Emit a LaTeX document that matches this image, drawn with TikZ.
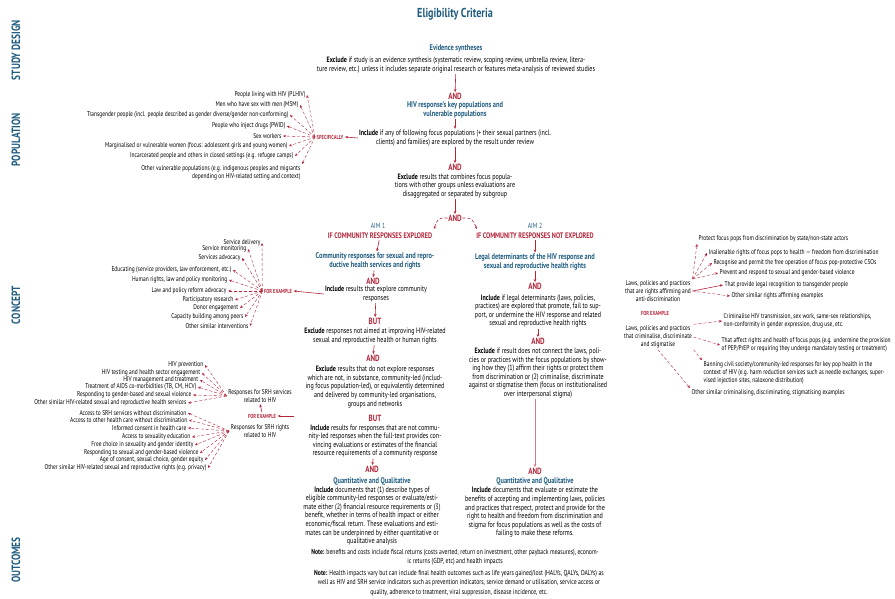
\documentclass[tikz,border=0pt]{standalone}
\usepackage{fontspec}
\setmainfont{PT Sans}[FakeStretch=0.78]
\usepackage[HTML]{xcolor}
\usepackage{tikz}
\usetikzlibrary{positioning, arrows, arrows.meta}
\definecolor{headblue}{HTML}{1F5C80}
\definecolor{crim}{HTML}{B3263A}

\begin{document}
\begin{tikzpicture}[x=1pt, y=-1pt,
  body/.style={font=\fontsize{7.8}{8.6}\selectfont, align=center, inner sep=1pt},
  item/.style={font=\fontsize{7}{7.8}\selectfont, inner sep=1.5pt},
  head/.style={font=\fontsize{8.2}{9}\selectfont\bfseries, text=headblue, align=center, inner sep=1pt},
  joiner/.style={font=\fontsize{9}{10}\selectfont\bfseries, text=crim, inner sep=0.5pt},
  aimlbl/.style={font=\fontsize{7.4}{8}\selectfont, text=headblue, inner sep=1pt},
  cond/.style={font=\fontsize{8}{9}\selectfont\bfseries, text=crim, inner sep=1pt},
  exlbl/.style={font=\fontsize{5.8}{7}\selectfont\bfseries, text=crim, inner sep=1.5pt},
  sidelbl/.style={font=\fontsize{12}{13}\selectfont\bfseries, text=headblue, rotate=90},
  flow/.style={crim, semithick, -{Stealth[length=3pt,width=2.6pt]}},
  fan/.style={crim, densely dashed, thin, -{Stealth[length=3pt,width=2.6pt]}},
]
\useasboundingbox (0,0) rectangle (895,598);

% title and row labels
\node[font=\fontsize{13}{15}\selectfont\bfseries, text=headblue] (title) at (455,14) {Eligibility Criteria};
\node[sidelbl] (lblstudy) at (16,50) {STUDY DESIGN};
\node[sidelbl] (lblpop) at (16,140) {POPULATION};
\node[sidelbl] (lblconc) at (16,305) {CONCEPT};
\node[sidelbl] (lblout) at (16,560) {OUTCOMES};

% study design
\node[head] (evid) at (456,48) {Evidence syntheses};
\node[body] (evidx) at (456,65) {\textbf{Exclude} if study is an evidence synthesis (systematic review, scoping review, umbrella review, litera-\\ture review, etc.) unless it includes separate original research or features meta-analysis of reviewed studies};

% population
\node[joiner] (and1) at (455,96) {AND};
\node[head] (keypop) at (455,110) {HIV response's key populations and\\vulnerable populations};
\node[body] (incl) at (455,138) {\textbf{Include} if any of following focus populations (+ their sexual partners (incl.\\clients) and families) are explored by the result under review};
\node[exlbl] (spec) at (330,137) {SPECIFICALLY};
\node[joiner] (and2) at (455,167) {AND};
\node[body] (combx) at (455,186) {\textbf{Exclude} results that combines focus popula-\\tions with other groups unless evaluations are\\disaggregated or separated by subgroup};
\draw[flow] (evidx) -- (and1);
\draw[flow] (keypop) -- (incl);
\draw[flow] (incl) -- (and2);
\draw[flow] (incl.west) -- (spec.east);

% population list
\node[item, anchor=east] (p1) at (307,95) {People living with HIV (PLHIV)};
\node[item, anchor=east] (p2) at (300,105) {Men who have sex with men (MSM)};
\node[item, anchor=east] (p3) at (290,115) {Transgender people (incl. people described as gender diverse/gender non-conforming)};
\node[item, anchor=east] (p4) at (287,126) {People who inject drugs (PWID)};
\node[item, anchor=east] (p5) at (283,136) {Sex workers};
\node[item, anchor=east] (p6) at (289,146) {Marginalised or vulnerable women (focus: adolescent girls and young women)};
\node[item, anchor=east] (p7) at (295,156) {Incarcerated people and others in closed settings (e.g. refugee camps)};
\node[item, anchor=east, align=right] (p8) at (302,173) {Other vulnerable populations (e.g. indigenous peoples and migrants\\depending on HIV-related setting and context)};
\foreach \p in {p1,p2,p3,p4,p5,p6,p7}{
  \draw[fan] (spec.west) -- (\p.east);
}
\draw[fan] (spec.west) -- (p8.north east);

% split into the two aims
\node[joiner] (and3) at (455,218) {AND};
\draw[flow] (combx) -- (and3);
\coordinate (split1) at (434,229);
\coordinate (split2) at (477,229);
\draw[flow, densely dashed] (and3.west) .. controls (438,218) .. (split1);
\draw[flow, densely dashed] (and3.east) .. controls (472,218) .. (split2);

% aim 1
\node[aimlbl] (aim1) at (378,226) {AIM 1};
\node[cond] (if1) at (380,236) {IF COMMUNITY RESPONSES EXPLORED};
\node[head] (comm) at (375,261) {Community responses for sexual and repro-\\ductive health services and rights};
\node[joiner] (and4) at (373,281) {AND};
\node[body] (inclc) at (376,294) {\textbf{Include} results that explore community\\responses};
\node[joiner] (but1) at (375,321) {BUT};
\node[body] (notaim) at (375,336) {\textbf{Exclude} responses not aimed at improving HIV-related\\sexual and reproductive health or human rights};
\node[joiner] (and5) at (373,358) {AND};
\node[body] (notled) at (375,387) {\textbf{Exclude} results that do not explore responses\\which are not, in substance, community-led (includ-\\ing focus population-led), or equivalently determined\\and delivered by community-led organisations,\\groups and networks};
\node[joiner] (but2) at (375,418) {BUT};
\node[body] (fulltext) at (375,441) {\textbf{Include} results for responses that are not commu-\\nity-led responses when the full-text provides con-\\vincing evaluations or estimates of the financial\\resource requirements of a community response};
\node[joiner] (and6) at (372,469) {AND};
\node[head] (qq1) at (372,481) {Quantitative and Qualitative};
\node[body] (docs1) at (372,516) {\textbf{Include} documents that (1) describe types of\\eligible community-led responses or evaluate/esti-\\mate either (2) financial resource requirements or (3)\\benefit, whether in terms of health impact or either\\economic/fiscal return. These evaluations and esti-\\mates can be underpinned by either quantitative or\\qualitative analysis};
\draw[flow] (if1) -- (comm);
\draw[flow] (comm) -- (and4);
\draw[flow] (inclc) -- (but1);
\draw[flow] (notaim) -- (and5);
\draw[flow] (fulltext) -- (and6);

% aim 2
\node[aimlbl] (aim2) at (535,226) {AIM 2};
\node[cond] (if2) at (535,236) {IF COMMUNITY RESPONSES NOT EXPLORED};
\node[head] (legal) at (535,262) {Legal determinants of the HIV response and\\sexual and reproductive health rights};
\node[joiner] (and7) at (535,286) {AND};
\node[body] (incll) at (538,311) {\textbf{Include} if legal determinants (laws, policies,\\practices) are explored that promote, fail to sup-\\port, or undermine the HIV response and related\\sexual and reproductive health rights};
\node[joiner] (and8) at (538,341) {AND};
\node[body] (exl) at (538,373) {\textbf{Exclude} if result does not connect the laws, poli-\\cies or practices with the focus populations by show-\\ing how they (1) affirm their rights or protect them\\from discrimination or (2) criminalise, discriminate\\against or stigmatise them (focus on institutionalised\\over interpersonal stigma)};
\node[joiner] (and9) at (535,471) {AND};
\node[head] (qq2) at (535,481) {Quantitative and Qualitative};
\node[body] (docs2) at (535,512.5) {\textbf{Include} documents that evaluate or estimate the\\benefits of accepting and implementing laws, policies\\and practices that respect, protect and provide for the\\right to health and freedom from discrimination and\\stigma for focus populations as well as the costs of\\failing to make these reforms.};
\draw[flow] (if2) -- (legal);
\draw[flow] (legal) -- (and7);
\draw[flow] (incll) -- (and8);
\draw[flow, crim!60, thin] (exl.south -| and9) -- (and9);

% notes
\node[body, font=\fontsize{7.3}{8.8}\selectfont] (note1) at (455,557) {\textbf{Note:} benefits and costs include fiscal returns (costs averted, return on investment, other payback measures), econom-\\ic returns (GDP, etc) and health impacts};
\node[body, font=\fontsize{7.3}{9.2}\selectfont] (note2) at (459,583) {\textbf{Note:} Health impacts vary but can include final health outcomes such as life years gained/lost (HALYs, QALYs, DALYs) as\\well as HIV and SRH service indicators such as prevention indicators, service demand or utilisation, service access or\\quality, adherence to treatment, viral suppression, disease incidence, etc.};

% community response examples
\node[exlbl] (fe1) at (278,291) {FOR EXAMPLE};
\draw[flow] (inclc.west) -- (fe1.east);
\node[item, anchor=east] (c1) at (262,243) {Service delivery};
\node[item, anchor=east] (c2) at (248,249) {Service monitoring};
\node[item, anchor=east] (c3) at (242,258) {Services advocacy};
\node[item, anchor=east] (c4) at (233,270) {Educating (service providers, law enforcement, etc.)};
\node[item, anchor=east] (c5) at (229,280) {Human rights, law and policy monitoring};
\node[item, anchor=east] (c6) at (228,291) {Law and policy reform advocacy};
\node[item, anchor=east] (c7) at (235,300) {Participatory research};
\node[item, anchor=east] (c8) at (240,308) {Donor engagement};
\node[item, anchor=east] (c9) at (245,317) {Capacity building among peers};
\node[item, anchor=east] (c10) at (250,326) {Other similar interventions};
\foreach \c in {c1,c2,c3,c4,c5,c6,c7,c8,c9,c10}{
  \draw[fan] (fe1.west) -- (\c.east);
}

% SRH services and rights examples
\node[item, align=center] (srv) at (260,396) {Responses for SRH services\\related to HIV};
\node[exlbl] (fe2) at (262,416) {FOR EXAMPLE};
\node[item, align=center] (rts) at (260,431) {Responses for SRH rights\\related to HIV};
\coordinate (fe2in) at (294,416);
\draw[flow] (fe2in) -- (fe2.east);
\draw[flow] (fe2.north) -- (srv.south);
\node[item, anchor=east] (s1) at (205,365) {HIV prevention};
\node[item, anchor=east] (s2) at (202,373) {HIV testing and health sector engagement};
\node[item, anchor=east] (s3) at (200,380) {HIV management and treatment};
\node[item, anchor=east] (s4) at (198,387) {Treatment of AIDS co-morbidities (TB, CM, HCV)};
\node[item, anchor=east] (s5) at (193,395) {Responding to gender-based and sexual violence};
\node[item, anchor=east] (s6) at (188,403) {Other similar HIV-related sexual and reproductive health services};
\foreach \s in {s1,s2,s3,s4,s5,s6}{
  \draw[fan] (srv.west) -- (\s.east);
}
\node[item, anchor=east] (r1) at (188,413) {Access to SRH services without discrimination};
\node[item, anchor=east] (r2) at (189,420) {Access to other health care without discrimination};
\node[item, anchor=east] (r3) at (188,428) {Informed consent in health care};
\node[item, anchor=east] (r4) at (192,437) {Access to sexuality education};
\node[item, anchor=east] (r5) at (195,445) {Free choice in sexuality and gender identity};
\node[item, anchor=east] (r6) at (200,453) {Responding to sexual and gender-based violence};
\node[item, anchor=east] (r7) at (205,460) {Age of consent, sexual choice, gender equity};
\node[item, anchor=east] (r8) at (208,468) {Other similar HIV-related sexual and reproductive rights (e.g. privacy)};
\foreach \r in {r1,r2,r3,r4,r5,r6,r7,r8}{
  \draw[fan] (rts.west) -- (\r.east);
}

% legal determinant examples
\node[item, align=center] (law1) at (658,291) {Laws, policies and practices\\that are rights affirming and\\anti-discrimination};
\node[exlbl] (fe3) at (655,313) {FOR EXAMPLE};
\node[item, align=center] (law2) at (658,337) {Laws, policies and practices\\that criminalise, discriminate\\and stigmatise};
\node[item, anchor=west] (q1) at (697,239) {Protect focus pops from discrimination by state/non-state actors};
\node[item, anchor=west] (q2) at (707,253) {Inalienable rights of focus pops to health — freedom from discrimination};
\node[item, anchor=west] (q3) at (712,263) {Recognise and permit the free operation of focus pop-protective CSOs};
\node[item, anchor=west] (q4) at (718,273) {Prevent and respond to sexual and gender-based violence};
\node[item, anchor=west] (q5) at (723,285) {That provide legal recognition to transgender people};
\node[item, anchor=west] (q6) at (730,296) {Other similar rights affirming examples};
\draw[fan] (law1.north east) -- (q1.south west);
\foreach \q in {q2,q3,q4}{
  \draw[fan] (law1.north east) -- (\q.west);
}
\draw[flow] (law1.east) -- (q5.west);
\draw[fan] (law1.east) -- (q6.west);
\node[item, anchor=west, align=left] (k1) at (722,321) {Criminalise HIV transmission, sex work, same-sex relationships,\\non-conformity in gender expression, drug use, etc.};
\node[item, anchor=west, align=left] (k2) at (720,345) {That affect rights and health of focus pops (e.g. undermine the provision\\of PEP/PrEP or requiring they undergo mandatory testing or treatment)};
\node[item, anchor=west, align=left] (k3) at (702,373) {Banning civil society/community-led responses for key pop health in the\\context of HIV (e.g. harm reduction services such as needle exchanges, super-\\vised injection sites, naloxone distribution)};
\node[item, anchor=west] (k4) at (690,393) {Other similar criminalising, discriminating, stigmatising examples};
\draw[fan] (law2.north east) -- (k1.west);
\draw[fan] (law2.east) -- (k2.west);
\draw[fan] (law2.south east) -- (k3.north west);
\draw[fan] (law2.south) -- (k4.north west);
\end{tikzpicture}
\end{document}
